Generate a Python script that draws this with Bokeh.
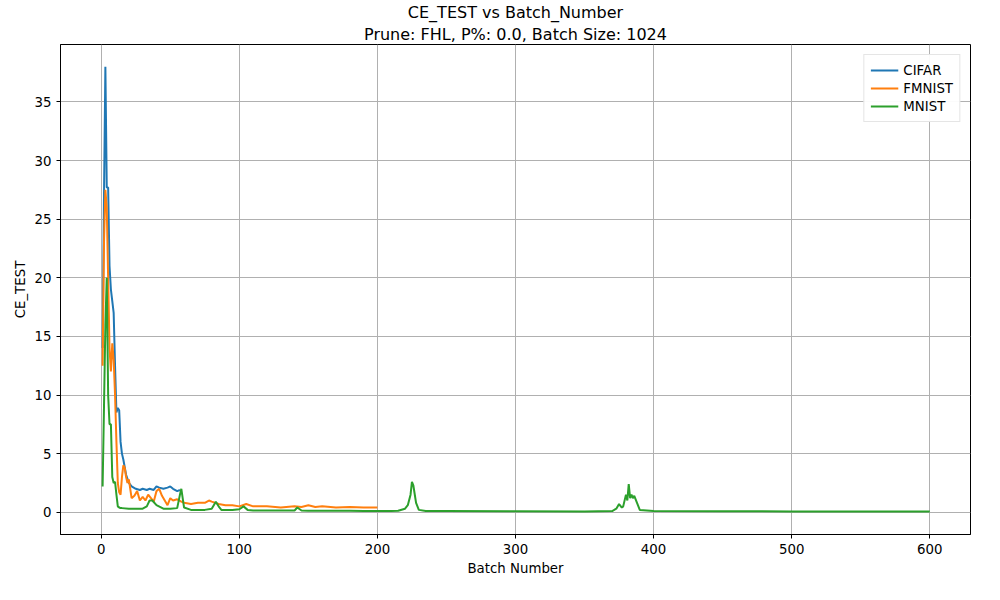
from bokeh.plotting import figure
from bokeh.models import Range1d, Title, Legend, LegendItem, SingleIntervalTicker
from bokeh.embed import file_html
from bokeh.resources import INLINE

cifar_x = [1, 2, 3, 4, 5, 6, 7, 8, 9, 10, 11, 12, 13, 14, 15, 16, 18, 20, 22, 25, 28, 30, 33, 35, 38, 40, 42, 45, 48, 50, 52, 55, 57]
cifar_y = [14, 27, 38, 27.7, 27.7, 21, 19, 18, 17, 12.5, 8.5, 8.9, 8.7, 6, 5, 4.5, 3.2, 2.5, 2.2, 2.0, 1.9, 2.0, 1.9, 2.0, 1.9, 2.2, 2.1, 2.0, 2.1, 2.2, 2.0, 1.8, 1.9]

fmnist_x = [1, 2, 3, 4, 5, 6, 7, 8, 9, 10, 11, 12, 13, 14, 15, 16, 17, 18, 19, 20, 22, 24, 26, 28, 30, 32, 34, 36, 38, 40, 42, 44, 46, 48, 50, 52, 55, 58, 60, 65, 70, 75, 78, 80, 85, 90, 95, 100, 105, 110, 120, 130, 140, 145, 150, 155, 160, 170, 180, 190, 200]
fmnist_y = [12.5, 23, 27.5, 26, 20, 14, 12, 14.4, 13, 10, 6, 2.5, 1.7, 1.5, 3, 4, 3.8, 3, 2.5, 2.8, 1.2, 1.4, 1.8, 1.0, 1.3, 1.0, 1.5, 1.2, 0.9, 1.8, 2.0, 1.4, 1.0, 0.6, 1.2, 1.0, 1.1, 0.9, 0.8, 0.7, 0.8, 0.8, 1.0, 0.9, 0.7, 0.6, 0.6, 0.5, 0.7, 0.5, 0.5, 0.4, 0.5, 0.45, 0.6, 0.45, 0.5, 0.4, 0.45, 0.4, 0.4]

mnist_x = [1, 2, 3, 4, 5, 6, 7, 8, 9, 10, 11, 12, 13, 14, 15, 20, 25, 30, 33, 35, 37, 40, 45, 50, 55, 57, 58, 60, 65, 70, 75, 80, 83, 85, 87, 90, 95, 100, 103, 106, 110, 120, 130, 140, 142, 145, 150, 160, 170, 180, 190, 200, 210, 215, 220, 222, 224, 225, 226, 228, 230, 235, 250, 300, 350, 370, 373, 375, 377, 378, 380, 381, 382, 383, 384, 385, 386, 388, 390, 400, 450, 500, 550, 600]
mnist_y = [2.2, 9, 16, 20, 10, 7.5, 7.5, 3, 2.5, 2.6, 1.5, 0.5, 0.4, 0.35, 0.35, 0.3, 0.3, 0.3, 0.5, 1.0, 1.0, 0.6, 0.3, 0.3, 0.35, 1.5, 2.0, 0.4, 0.2, 0.2, 0.2, 0.3, 0.9, 0.5, 0.2, 0.2, 0.2, 0.25, 0.5, 0.2, 0.15, 0.15, 0.15, 0.15, 0.4, 0.15, 0.12, 0.12, 0.12, 0.12, 0.1, 0.1, 0.1, 0.12, 0.3, 0.6, 1.5, 2.6, 2.3, 0.8, 0.2, 0.1, 0.1, 0.08, 0.07, 0.1, 0.3, 0.7, 0.4, 0.5, 1.5, 1.0, 2.4, 1.2, 1.5, 1.2, 1.4, 0.8, 0.2, 0.1, 0.08, 0.07, 0.07, 0.07]

FONT = "DejaVu Sans"

p = figure(width=984, height=584, output_backend="svg", toolbar_location=None,
           x_range=Range1d(-29.5, 629.5), y_range=Range1d(-1.9, 39.9),
           min_border_left=60, min_border_right=14, min_border_top=4, min_border_bottom=50)
p.add_layout(Title(text="Prune: FHL, P%: 0.0, Batch Size: 1024", align="center", standoff=2,
                   text_font=FONT, text_font_size="12pt", text_font_style="normal",
                   text_color="black"), "above")
p.add_layout(Title(text="CE_TEST vs Batch_Number", align="center", standoff=0,
                   text_font=FONT, text_font_size="12pt", text_font_style="normal",
                   text_color="black"), "above")

p.xaxis.ticker = SingleIntervalTicker(interval=100)
p.yaxis.ticker = SingleIntervalTicker(interval=5)
p.xaxis.axis_label = "Batch Number"
p.yaxis.axis_label = "CE_TEST"
for ax in (p.xaxis[0], p.yaxis[0]):
    ax.axis_label_text_font = FONT
    ax.axis_label_text_font_style = "normal"
    ax.axis_label_text_font_size = "10pt"
    ax.axis_label_text_color = "black"
    ax.major_label_text_font = FONT
    ax.major_label_text_font_size = "10pt"
    ax.major_label_text_color = "black"
    ax.minor_tick_line_color = None
    ax.major_tick_in = 0
    ax.major_tick_out = 4
    ax.axis_label_standoff = 4
p.grid.grid_line_color = "#b0b0b0"
p.grid.grid_line_width = 1
p.outline_line_color = "black"

r1 = p.line(cifar_x, cifar_y, line_width=2, color="#1f77b4")
r2 = p.line(fmnist_x, fmnist_y, line_width=2, color="#ff7f0e")
r3 = p.line(mnist_x, mnist_y, line_width=2, color="#2ca02c")

legend = Legend(items=[LegendItem(label="CIFAR", renderers=[r1]),
                       LegendItem(label="FMNIST", renderers=[r2]),
                       LegendItem(label="MNIST", renderers=[r3])],
                location="top_right", label_text_font=FONT, label_text_font_size="10pt",
                label_text_color="black",
                border_line_color="#cccccc", spacing=0, padding=6, glyph_width=28,
                label_height=18, glyph_height=18)
p.add_layout(legend)

open("out.html", "w").write(file_html(p, INLINE))
